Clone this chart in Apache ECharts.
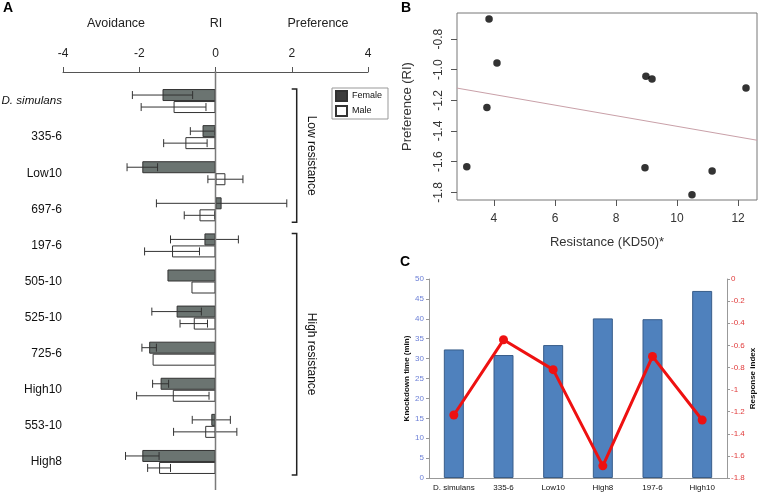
<!DOCTYPE html>
<html><head><meta charset="utf-8">
<script src="https://cdn.jsdelivr.net/npm/echarts@6/dist/echarts.min.js"></script>
<style>html,body{margin:0;padding:0;background:#fff}#c{width:760px;height:494px}</style>
</head><body><div id="c"></div>
<script>
// ---- Panel A data ----
const strains = ['D. simulans','335-6','Low10','697-6','197-6','505-10','525-10','725-6','High10','553-10','High8'];
const femaleRI  = [-1.39,-0.34,-1.92, 0.16,-0.29,-1.26,-1.02,-1.74,-1.44,-0.11,-1.92];
const femaleErr = [ 0.79, 0.32, 0.40, 1.71, 0.89, null, 0.65, 0.19, 0.21, 0.50, 0.44];
const maleRI    = [-1.10,-0.79, 0.26,-0.42,-1.14,-0.63,-0.57,-1.65,-1.12,-0.27,-1.48];
const maleErr   = [ 0.85, 0.57, 0.46, 0.40, 0.72, null, 0.36, null, 0.95, 0.83, 0.30];
const riTicks = [-4,-2,0,2,4];
const groupNames = ['Low resistance','High resistance'];
const groupFrom = [0,4];
const groupTo = [3,10];
// ---- Panel B data ----
const resistance = [3.11,3.84,4.10,3.77,8.98,9.18,12.26,8.95,10.49,11.15];
const preference = [-1.633,-0.669,-0.957,-1.246,-1.043,-1.060,-1.120,-1.640,-1.816,-1.660];
const fitX = [2.79,12.62];
const fitY = [-1.12,-1.46];
const resTicks = [4,6,8,10,12];
const prefTicks = [-1.8,-1.6,-1.4,-1.2,-1.0,-0.8];
// ---- Panel C data ----
const lines = ['D. simulans','335-6','Low10','High8','197-6','High10'];
const knockdown = [32.3,30.9,33.4,40.1,39.9,47.0];
const response = [-1.23,-0.55,-0.82,-1.69,-0.70,-1.275];

const FONT = 'Liberation Sans, Arial, sans-serif';
const chart = echarts.init(document.getElementById('c'), null, {renderer:'canvas'});

function errItem(offset){
  return function(params, api){
    const i = api.value(0), v = api.value(1), e = api.value(2);
    if (!(e > 0)) return null;
    const p1 = api.coord([v - e, i]), p2 = api.coord([v + e, i]);
    const y = p1[1] + offset, h = 4;
    const st = {stroke:'#333', lineWidth:1};
    return {type:'group', children:[
      {type:'line', shape:{x1:p1[0],y1:y,x2:p2[0],y2:y}, style:st},
      {type:'line', shape:{x1:p1[0],y1:y-h,x2:p1[0],y2:y+h}, style:st},
      {type:'line', shape:{x1:p2[0],y1:y-h,x2:p2[0],y2:y+h}, style:st}
    ]};
  };
}
const BRACKET_X = 2.13;
function bracketItem(params, api){
  const a = api.value(0), b = api.value(1), name = groupNames[params.dataIndex];
  const top = api.coord([BRACKET_X, a])[1] - 12;
  const bot = api.coord([BRACKET_X, b])[1] + 13;
  const x = api.coord([BRACKET_X, a])[0];
  const st = {stroke:'#222', lineWidth:1.5, fill:null};
  return {type:'group', children:[
    {type:'polyline', shape:{points:[[x-5,top],[x,top],[x,bot],[x-5,bot]]}, style:st},
    {type:'text', x:x+15, y:(top+bot)/2, rotation:-Math.PI/2,
     style:{text:name, fill:'#111', font:'12px '+FONT, align:'center', verticalAlign:'middle'}}
  ]};
}

const option = {
  animation:false,
  backgroundColor:'#fff',
  textStyle:{fontFamily:FONT},
  graphic:[
    {type:'text', left:3, top:1, style:{text:'A', font:'bold 14px '+FONT, fill:'#000'}},
    {type:'text', left:401, top:1, style:{text:'B', font:'bold 14px '+FONT, fill:'#000'}},
    {type:'text', left:400, top:255, style:{text:'C', font:'bold 14px '+FONT, fill:'#000'}},
    {type:'text', x:116, y:24, style:{text:'Avoidance', font:'12.5px '+FONT, fill:'#222', align:'center', verticalAlign:'middle'}},
    {type:'text', x:216, y:24, style:{text:'RI', font:'12.5px '+FONT, fill:'#222', align:'center', verticalAlign:'middle'}},
    {type:'text', x:318, y:24, style:{text:'Preference', font:'12.5px '+FONT, fill:'#222', align:'center', verticalAlign:'middle'}}
  ],
  legend:{
    data:[{name:'Female', itemStyle:{color:'#3d3d3d'}}, {name:'Male'}],
    icon:'rect',
    orient:'vertical', left:332, top:88, itemWidth:11, itemHeight:10, itemGap:3,
    padding:[2,6,2,3], borderColor:'#999', borderWidth:1,
    textStyle:{fontSize:9, color:'#111', fontFamily:FONT}
  },
  grid:[
    {left:63, right:392, top:83, height:397, outerBoundsMode:'none', containLabel:false},
    {left:457, right:3, top:13, bottom:294, show:true, borderColor:'#777', borderWidth:1, backgroundColor:'transparent', outerBoundsMode:'none', containLabel:false},
    {left:429, right:33, top:279, bottom:16, outerBoundsMode:'none', containLabel:false}
  ],
  xAxis:[
    {gridIndex:0, type:'value', position:'top', offset:11, min:-4, max:4, interval:2,
     axisLine:{show:true, onZero:false, lineStyle:{color:'#555', width:1}},
     axisTick:{show:true, length:5, lineStyle:{color:'#555'}},
     axisLabel:{fontSize:12, color:'#222', margin:12, fontFamily:FONT},
     splitLine:{show:false}},
    {gridIndex:1, type:'value', min:2.79, max:12.62,
     axisLine:{show:false},
     axisTick:{show:true, length:6, customValues:resTicks, lineStyle:{color:'#555'}},
     axisLabel:{fontSize:12, color:'#333', margin:13, customValues:resTicks, fontFamily:FONT},
     splitLine:{show:false},
     name:'Resistance (KD50)*', nameLocation:'middle', nameGap:36,
     nameTextStyle:{fontSize:13, color:'#333', fontFamily:FONT}},
    {gridIndex:2, type:'category', data:lines,
     axisLine:{show:true, lineStyle:{color:'#999'}},
     axisTick:{show:false},
     axisLabel:{fontSize:8, color:'#111', margin:6, interval:0, fontFamily:FONT}}
  ],
  yAxis:[
    {gridIndex:0, type:'category', data:strains, inverse:true,
     axisLine:{show:false}, axisTick:{show:false},
     axisLabel:{fontSize:12, color:'#111', margin:1, fontFamily:FONT,
       formatter:function(v){ return v==='D. simulans' ? '{i|'+v+'}' : v; },
       rich:{i:{fontStyle:'italic', fontSize:11.6, color:'#111', fontFamily:FONT}}}},
    {gridIndex:1, type:'value', min:-1.85, max:-0.63,
     axisLine:{show:false},
     axisTick:{show:true, length:6, customValues:prefTicks, lineStyle:{color:'#555'}},
     axisLabel:{fontSize:12, color:'#333', rotate:90, margin:12, customValues:prefTicks, fontFamily:FONT,
       formatter:function(v){ return v.toFixed(1); }},
     splitLine:{show:false},
     name:'Preference (RI)', nameLocation:'middle', nameGap:43,
     nameTextStyle:{fontSize:13, color:'#333', fontFamily:FONT}},
    {gridIndex:2, type:'value', min:0, max:50, interval:5,
     axisLine:{show:true, lineStyle:{color:'#999'}},
     axisTick:{show:true, length:3, lineStyle:{color:'#999'}},
     axisLabel:{fontSize:8, color:'#6b7fd6', margin:5, fontFamily:FONT},
     splitLine:{show:false},
     name:'Knockdown time (min)', nameLocation:'middle', nameGap:18,
     nameTextStyle:{fontSize:8, fontWeight:'bold', color:'#111', fontFamily:FONT}},
    {gridIndex:2, type:'value', position:'right', min:-1.8, max:0, interval:0.2,
     axisLine:{show:true, lineStyle:{color:'#999'}},
     axisTick:{show:true, length:3, lineStyle:{color:'#999'}},
     axisLabel:{fontSize:8, color:'#e03a3a', margin:4, fontFamily:FONT},
     splitLine:{show:false},
     name:'Response index', nameLocation:'middle', nameGap:22, nameRotate:90,
     nameTextStyle:{fontSize:8, fontWeight:'bold', color:'#111', fontFamily:FONT}}
  ],
  series:[
    {name:'Female', type:'bar', xAxisIndex:0, yAxisIndex:0, data:femaleRI, barWidth:12, barGap:'0%',
     itemStyle:{color:'#6b7471', borderColor:'#333', borderWidth:1}},
    {name:'Male', type:'bar', xAxisIndex:0, yAxisIndex:0, data:maleRI, barWidth:12, barGap:'0%',
     itemStyle:{color:'#fff', borderColor:'#333', borderWidth:1}},
    {name:'femaleErr', type:'custom', xAxisIndex:0, yAxisIndex:0, clip:false, z:5,
     encode:{x:1, y:0}, renderItem:errItem(-6),
     data:femaleRI.map(function(v,i){ return [i, v, femaleErr[i]]; })},
    {name:'maleErr', type:'custom', xAxisIndex:0, yAxisIndex:0, clip:false, z:5,
     encode:{x:1, y:0}, renderItem:errItem(6),
     data:maleRI.map(function(v,i){ return [i, v, maleErr[i]]; })},
    {name:'groups', type:'custom', xAxisIndex:0, yAxisIndex:0, clip:false,
     encode:{y:[0,1]}, renderItem:bracketItem,
     data:groupFrom.map(function(f,i){ return [f, groupTo[i]]; })},
    {name:'points', type:'scatter', xAxisIndex:1, yAxisIndex:1, symbolSize:7.5,
     itemStyle:{color:'#000'},
     data:resistance.map(function(x,i){ return [x, preference[i]]; })},
    {name:'fit', type:'line', xAxisIndex:1, yAxisIndex:1, showSymbol:false, symbol:'none',
     lineStyle:{color:'#c9a0a8', width:1},
     data:fitX.map(function(x,i){ return [x, fitY[i]]; })},
    {name:'Knockdown', type:'bar', xAxisIndex:2, yAxisIndex:2, data:knockdown, barWidth:20,
     itemStyle:{color:'#4f81bd', borderColor:'#385d8a', borderWidth:1}},
    {name:'Response', type:'line', xAxisIndex:2, yAxisIndex:3, data:response,
     symbol:'circle', symbolSize:9, lineStyle:{color:'#ee1111', width:3},
     itemStyle:{color:'#ee1111'}}
  ]
};
chart.setOption(option);
// zero reference line of panel A, placed through the RI axis scale, spanning from the axis line to the bottom
const zx = chart.convertToPixel({xAxisIndex:0}, 0);
chart.setOption({graphic: option.graphic.concat([
  {type:'line', z:10, silent:true, shape:{x1:zx, y1:71, x2:zx, y2:490}, style:{stroke:'#7a7a7a', lineWidth:1.5}}
])});
</script></body></html>
